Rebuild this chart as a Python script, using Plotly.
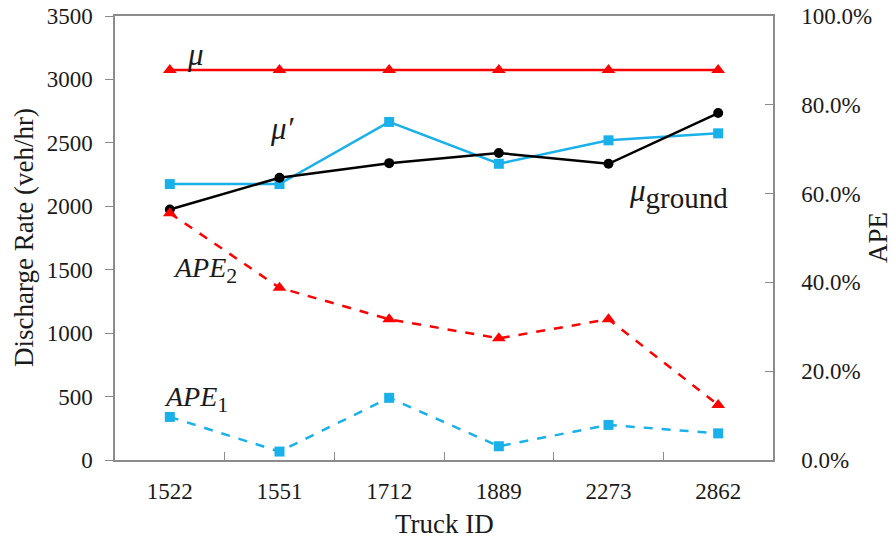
import plotly.graph_objects as go

trucks = ["1522", "1551", "1712", "1889", "2273", "2862"]
mu = [3075, 3075, 3075, 3075, 3075, 3075]
mu_prime = [2175, 2175, 2665, 2335, 2520, 2575]
mu_ground = [1975, 2225, 2340, 2420, 2335, 2735]
ape2 = [0.556, 0.388, 0.317, 0.274, 0.317, 0.124]
ape1 = [0.097, 0.019, 0.140, 0.031, 0.079, 0.060]

left_ticks = [0, 500, 1000, 1500, 2000, 2500, 3000, 3500]
right_ticks = [0, 0.2, 0.4, 0.6, 0.8, 1.0]

RED = "#FF0000"
CYAN = "#1AB0EA"
FONT = "Liberation Serif"
GRAY = "#8C8C8C"
TXT = "#1a1a1a"

fig = go.Figure()
fig.add_trace(go.Scatter(x=trucks, y=mu, mode="lines+markers",
                         line=dict(color=RED, width=2.5),
                         marker=dict(symbol="triangle-up", size=12, color=RED)))
fig.add_trace(go.Scatter(x=trucks, y=mu_prime, mode="lines+markers",
                         line=dict(color=CYAN, width=2.5),
                         marker=dict(symbol="square", size=10, color=CYAN)))
fig.add_trace(go.Scatter(x=trucks, y=mu_ground, mode="lines+markers",
                         line=dict(color="black", width=2.5),
                         marker=dict(symbol="circle", size=10, color="black")))
fig.add_trace(go.Scatter(x=trucks, y=ape2, mode="lines+markers", yaxis="y2",
                         line=dict(color=RED, width=2.5, dash="dash"),
                         marker=dict(symbol="triangle-up", size=12, color=RED)))
fig.add_trace(go.Scatter(x=trucks, y=ape1, mode="lines+markers", yaxis="y2",
                         line=dict(color=CYAN, width=2.5, dash="dash"),
                         marker=dict(symbol="square", size=10, color=CYAN)))

ann_font = dict(family=FONT, size=28, color=TXT)
big_font = dict(family=FONT, size=31, color=TXT)
annotations = [
    dict(x=0.14, y=3195, text="<i>μ</i>", xanchor="left", font=big_font),
    dict(x=1.03, y=2615, text="<i>μ′</i>", font=big_font),
    dict(x=4.64, y=2100, text="<i>μ</i><sub><span style='font-size:29px'>ground</span></sub>",
         font=big_font),
    dict(x=0.32, y=1500, text="<i>APE</i><sub><span style='font-size:22px'>2</span></sub>",
         font=ann_font),
    dict(x=0.24, y=480, text="<i>APE</i><sub><span style='font-size:22px'>1</span></sub>",
         font=ann_font),
]
for a in annotations:
    a.update(xref="x", yref="y", showarrow=False)

title_font = dict(family=FONT, size=27, color=TXT)
annotations += [
    dict(x=0, y=0.5, xref="paper", yref="paper", text="Discharge Rate (veh/hr)",
         textangle=-90, showarrow=False, font=title_font,
         xanchor="center", yanchor="middle", xshift=24 - 115),
    dict(x=0.5, y=0, xref="paper", yref="paper", text="Truck ID",
         showarrow=False, font=title_font,
         xanchor="center", yanchor="middle", yshift=-(524 - 460)),
    dict(x=1, y=0.5, xref="paper", yref="paper", text="APE",
         textangle=-90, showarrow=False, font=title_font,
         xanchor="center", yanchor="middle", xshift=878 - 773),
]

tick_font = dict(family=FONT, size=23, color=TXT)

fig.update_layout(
    width=894, height=543,
    margin=dict(l=115, r=121, t=16, b=83, autoexpand=False),
    paper_bgcolor="white", plot_bgcolor="white",
    showlegend=False,
    annotations=annotations,
    xaxis=dict(type="category", range=[-0.5, 5.5], showgrid=False, automargin=False,
               showline=True, linecolor=GRAY, linewidth=1.5, mirror=True,
               ticks="inside", tickson="boundaries", ticklen=8, tickcolor=GRAY,
               tickfont=tick_font, ticklabelstandoff=10),
    yaxis=dict(range=[0, 3500], tickvals=left_ticks, showgrid=False, zeroline=False,
               automargin=False,
               showline=True, linecolor=GRAY, linewidth=1.5,
               ticks="outside", ticklen=8, tickcolor=GRAY,
               tickfont=tick_font, ticklabelstandoff=8),
    yaxis2=dict(range=[0, 1.0], tickvals=right_ticks, tickformat=".1%",
                overlaying="y", side="right", showgrid=False, zeroline=False,
                automargin=False,
                showline=True, linecolor=GRAY, linewidth=1.5,
                ticks="inside", ticklen=8, tickcolor=GRAY,
                tickfont=tick_font, ticklabelstandoff=22),
)

fig.write_html("out.html")
